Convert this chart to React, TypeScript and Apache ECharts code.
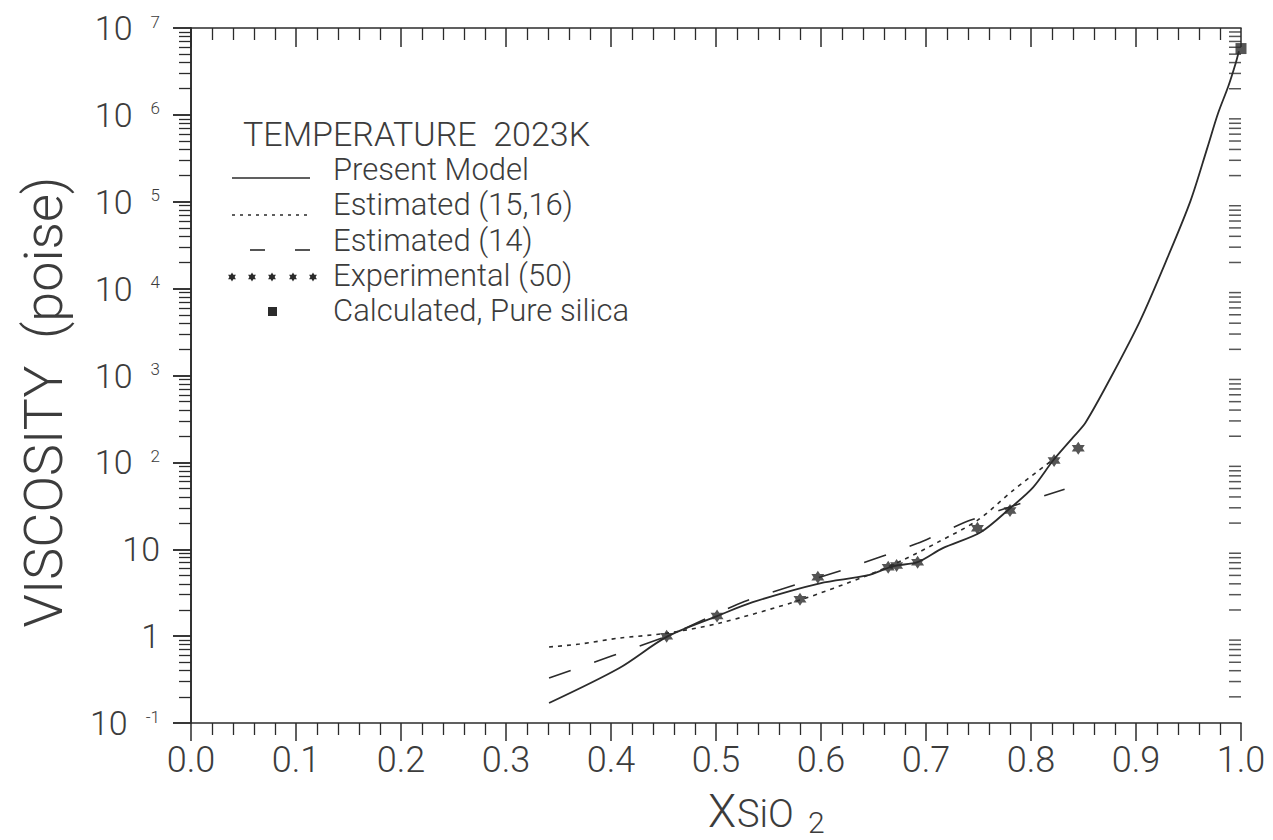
import React, { useEffect, useRef } from "react";
import * as echarts from "echarts";

// Present model curve (mole fraction SiO2, viscosity in poise)
const modelX = [0.341, 0.408, 0.453, 0.501, 0.535, 0.599, 0.644, 0.669, 0.692, 0.716, 0.752, 0.78, 0.802, 0.821, 0.84, 0.852, 0.876, 0.904, 0.93, 0.952, 0.968, 0.978, 0.988, 0.995, 0.998];
const modelV = [0.17, 0.43, 0.98, 1.7, 2.46, 4.06, 5.0, 6.4, 7.1, 10.3, 15.7, 29.6, 51.6, 105, 194, 288, 948, 4290, 22700, 103000, 420000, 1030000, 2150000, 3960000, 5400000];

// Estimated (15,16)
const est1516X = [0.341, 0.37, 0.408, 0.453, 0.503, 0.58, 0.644, 0.678, 0.711, 0.749, 0.783, 0.816, 0.823];
const est1516V = [0.75, 0.81, 0.95, 1.08, 1.41, 2.6, 5.0, 7.5, 12, 21.5, 47.6, 97, 112];

// Estimated (14)
const est14X = [0.341, 0.456, 0.527, 0.623, 0.692, 0.742, 0.832];
const est14V = [0.33, 1.03, 2.5, 5.9, 11.7, 21.5, 49];

// Experimental (50)
const expX = [0.453, 0.501, 0.58, 0.597, 0.664, 0.672, 0.692, 0.749, 0.78, 0.822, 0.845];
const expV = [1.0, 1.7, 2.66, 4.76, 6.2, 6.5, 7.1, 17.4, 28, 105, 145];

// Calculated, pure silica
const silicaX = [1.0];
const silicaV = [5800000];

// Log-axis minor tick multipliers and the decades they fill
const minorMultipliers = [2, 3, 4, 5, 6, 7, 8, 9];
const decades = [-1, 0, 1, 2, 3, 4, 5, 6];

const INK = "#2b2b2b";
const TEXT = "#3c3c3c";
const FONT = "Roboto";
const WEIGHT = 300;
const MINOR_LEN = 12;

const GRID = { left: 191, top: 28, width: 1050, height: 695 };

const STAR =
  "path://M0,-10L2.89,-5L8.66,-5L5.77,0L8.66,5L2.89,5L0,10L-2.89,5L-8.66,5L-5.77,0L-8.66,-5L-2.89,-5Z";

const pairs = (xs: number[], ys: number[]) => xs.map((x, i) => [x, ys[i]]);

function starPoints(cx: number, cy: number, r: number) {
  const pts: number[][] = [];
  for (let i = 0; i < 12; i++) {
    const a = (Math.PI / 6) * i - Math.PI / 2;
    const rr = i % 2 === 0 ? r : r * 0.58;
    pts.push([cx + rr * Math.cos(a), cy + rr * Math.sin(a)]);
  }
  return pts;
}

const txt = (text: string, x: number, y: number, size: number, extra: any = {}) => ({
  type: "text",
  x,
  y,
  silent: true,
  ...extra,
  style: {
    text,
    fontSize: size,
    lineHeight: Math.round(size * 0.8),
    fontFamily: FONT,
    fontWeight: WEIGHT,
    fill: TEXT,
    align: "left",
    verticalAlign: "middle",
    ...(extra.style || {}),
  },
});

const seg = (x1: number, y1: number, x2: number, y2: number, dash?: number[]) => ({
  type: "line",
  silent: true,
  shape: { x1, y1, x2, y2 },
  style: { stroke: INK, lineWidth: 1.6, lineDash: dash },
});

const axisLine = () => ({ show: true, lineStyle: { color: INK, width: 1.6 } });

export default function App() {
  const ref = useRef<HTMLDivElement>(null);

  useEffect(() => {
    document.body.style.margin = "0";
    if (!ref.current) return;
    const chart = echarts.init(ref.current, null, { renderer: "svg" });

    const minorValues: number[] = [];
    decades.forEach((d) => minorMultipliers.forEach((m) => minorValues.push(m * Math.pow(10, d))));

    const yLabel = (v: number) => {
      const e = Math.round(Math.log10(v));
      if (e === 0) return "1";
      if (e === 1) return "10";
      return `{b|10}{e|${e}}`;
    };

    const legendStars = [232, 252, 272, 293, 313].map((cx) => ({
      type: "polygon",
      silent: true,
      shape: { points: starPoints(cx, 277, 4.5) },
      style: { fill: INK },
    }));

    chart.setOption({
      animation: false,
      // second grid overlays the first and only carries the left-hand log minor ticks
      grid: [{ ...GRID }, { ...GRID }],
      xAxis: [
        {
          type: "value",
          position: "bottom",
          min: 0,
          max: 1,
          interval: 0.1,
          axisLine: axisLine(),
          axisTick: { show: true, inside: false, length: 18, lineStyle: { color: INK, width: 1.5 } },
          minorTick: { show: true, splitNumber: 5, length: 12, lineStyle: { color: INK, width: 1.3 } },
          splitLine: { show: false },
          axisLabel: {
            margin: 19,
            formatter: (v: number) => v.toFixed(1),
            fontSize: 36,
            fontFamily: FONT,
            fontWeight: WEIGHT,
            color: TEXT,
          },
        },
        {
          type: "value",
          position: "top",
          min: 0,
          max: 1,
          interval: 0.1,
          axisLine: axisLine(),
          axisTick: { show: true, inside: true, length: 19, lineStyle: { color: INK, width: 1.5 } },
          minorTick: { show: true, splitNumber: 5, length: 12, lineStyle: { color: INK, width: 1.3 } },
          splitLine: { show: false },
          axisLabel: { show: false },
        },
        { type: "value", gridIndex: 1, min: 0, max: 1, show: false },
      ],
      yAxis: [
        {
          type: "log",
          logBase: 10,
          position: "left",
          min: 0.1,
          max: 1e7,
          axisLine: axisLine(),
          axisTick: { show: true, inside: false, length: 18, lineStyle: { color: INK, width: 1.5 } },
          splitLine: { show: false },
          axisLabel: {
            margin: 31,
            formatter: yLabel,
            fontSize: 34,
            fontFamily: FONT,
            fontWeight: WEIGHT,
            color: TEXT,
            rich: {
              b: { fontSize: 34, lineHeight: 30, fontFamily: FONT, fontWeight: WEIGHT, color: TEXT },
              e: {
                fontSize: 17,
                lineHeight: 17,
                verticalAlign: "top",
                padding: [0, 0, 0, 18],
                fontFamily: FONT,
                fontWeight: WEIGHT,
                color: TEXT,
              },
            },
          },
        },
        {
          type: "log",
          logBase: 10,
          position: "right",
          min: 0.1,
          max: 1e7,
          axisLine: axisLine(),
          axisTick: { show: true, inside: true, length: 18, lineStyle: { color: INK, width: 1.5 } },
          splitLine: { show: false },
          axisLabel: { show: false },
        },
        {
          type: "log",
          logBase: 10,
          gridIndex: 1,
          position: "left",
          min: 0.1,
          max: 1e7,
          axisLine: { show: false },
          axisLabel: { show: false },
          splitLine: { show: false },
          axisTick: {
            show: true,
            inside: false,
            length: MINOR_LEN,
            customValues: minorValues,
            lineStyle: { color: INK, width: 1.3 },
          },
        },
      ],
      series: [
        {
          // right-hand log minor ticks, pointing into the plot
          type: "scatter",
          clip: false,
          data: minorValues.map((v) => [1, v]),
          symbol: "rect",
          symbolSize: [MINOR_LEN, 1.5],
          symbolOffset: [-MINOR_LEN / 2, 0],
          itemStyle: { color: INK },
        },
        {
          name: "Present Model",
          type: "line",
          data: pairs(modelX, modelV),
          showSymbol: false,
          smooth: 0.3,
          lineStyle: { color: INK, width: 1.8 },
        },
        {
          name: "Estimated (15,16)",
          type: "line",
          data: pairs(est1516X, est1516V),
          showSymbol: false,
          smooth: 0.3,
          lineStyle: { color: INK, width: 1.6, type: [4, 5] },
        },
        {
          name: "Estimated (14)",
          type: "line",
          data: pairs(est14X, est14V),
          showSymbol: false,
          smooth: 0.2,
          lineStyle: { color: INK, width: 1.6, type: [23, 25] },
        },
        {
          name: "Experimental (50)",
          type: "scatter",
          data: pairs(expX, expV),
          symbol: STAR,
          symbolSize: 13,
          itemStyle: { color: INK },
        },
        {
          name: "Calculated, Pure silica",
          type: "scatter",
          data: pairs(silicaX, silicaV),
          symbol: "rect",
          symbolSize: 11,
          clip: false,
          itemStyle: { color: INK },
        },
      ],
      graphic: [
        txt("TEMPERATURE  2023K", 243, 134, 34),
        seg(232, 178, 310, 178),
        txt("Present Model", 333, 169, 31),
        seg(232, 215, 310, 215, [3, 5]),
        txt("Estimated (15,16)", 333, 204, 31),
        seg(250, 250, 265, 250),
        seg(295, 250, 310, 250),
        txt("Estimated (14)", 333, 240, 31),
        ...legendStars,
        txt("Experimental (50)", 333, 275, 31),
        {
          type: "rect",
          silent: true,
          shape: { x: 268, y: 307, width: 9, height: 9 },
          style: { fill: INK },
        },
        txt("Calculated, Pure silica", 333, 310, 31),
        txt("VISCOSITY  (poise)", 43, 402, 54, {
          rotation: Math.PI / 2,
          style: { align: "center" },
        }),
        txt("X", 708, 811, 46),
        txt("SiO", 737, 814, 38),
        txt("2", 808, 822, 30, { style: { lineHeight: 24 } }),
      ],
    });

    return () => chart.dispose();
  }, []);

  return <div ref={ref} style={{ width: 1273, height: 840, background: "#ffffff" }} />;
}
